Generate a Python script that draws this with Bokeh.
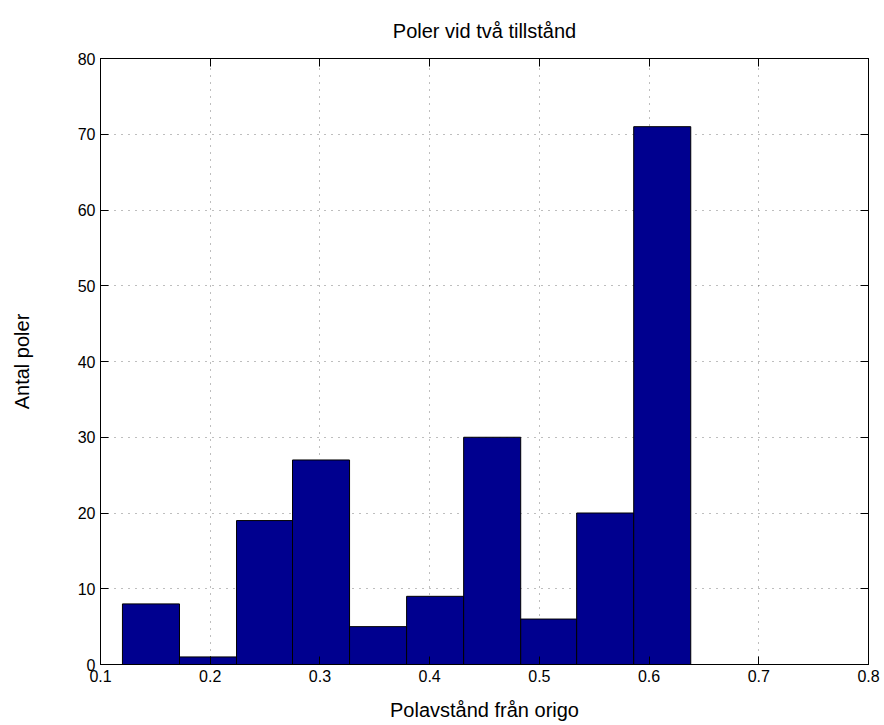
from bokeh.plotting import figure
from bokeh.models import Range1d, LinearAxis, FixedTicker, CustomJSTickFormatter, ColumnDataSource
from bokeh.embed import file_html
from bokeh.resources import INLINE

# Data
bin_edges = [0.120, 0.172, 0.224, 0.275, 0.327, 0.379, 0.431, 0.483, 0.534, 0.586, 0.638]
counts = [8, 1, 19, 27, 5, 9, 30, 6, 20, 71]
x_ticks = [0.1, 0.2, 0.3, 0.4, 0.5, 0.6, 0.7, 0.8]
y_ticks = [0, 10, 20, 30, 40, 50, 60, 70, 80]
title_text = "Poler vid två tillstånd"
x_label = "Polavstånd från origo"
y_label = "Antal poler"

FONT = "Liberation Sans"

src = ColumnDataSource(dict(left=bin_edges[:-1], right=bin_edges[1:], top=counts,
                            bottom=[0] * len(counts)))

p = figure(width=884, height=725, output_backend="svg", toolbar_location=None,
           x_range=Range1d(0.1, 0.8), y_range=Range1d(0, 80),
           min_border_left=100, min_border_right=16, min_border_top=58, min_border_bottom=61,
           background_fill_color="white", border_fill_color="white")

p.title.text = title_text
p.title.align = "center"
p.title.text_font = FONT
p.title.text_font_size = "20px"
p.title.text_font_style = "normal"
p.title.text_color = "black"
p.title.standoff = 33

p.outline_line_color = "black"
p.outline_line_width = 1
p.outline_line_alpha = 1

p.quad(left="left", right="right", top="top", bottom="bottom", source=src,
       fill_color="#00008F", line_color="black", line_width=1)

for ax, lab in ((p.xaxis[0], x_label), (p.yaxis[0], y_label)):
    ax.axis_label = lab
    ax.axis_label_text_font = FONT
    ax.axis_label_text_font_size = "20px"
    ax.axis_label_text_font_style = "normal"
    ax.axis_label_text_color = "black"
    ax.major_label_text_font = FONT
    ax.major_label_text_font_size = "16px"
    ax.major_label_text_color = "black"
    ax.major_tick_in = 8
    ax.major_tick_out = 0
    ax.minor_tick_in = 0
    ax.minor_tick_out = 0
    ax.axis_line_color = "black"
    ax.major_tick_line_color = "black"

p.xaxis[0].ticker = FixedTicker(ticks=x_ticks)
p.yaxis[0].ticker = FixedTicker(ticks=y_ticks)
p.xaxis[0].major_label_standoff = 5
p.xaxis[0].axis_label_standoff = 14
p.yaxis[0].major_label_standoff = 5
p.yaxis[0].axis_label_standoff = 42

empty = CustomJSTickFormatter(code="return ''")
top_ax = LinearAxis(ticker=FixedTicker(ticks=x_ticks), formatter=empty,
                    major_tick_in=8, major_tick_out=0, minor_tick_in=0, minor_tick_out=0,
                    major_label_standoff=0, major_label_text_font_size="1px",
                    axis_line_color="black", major_tick_line_color="black")
right_ax = LinearAxis(ticker=FixedTicker(ticks=y_ticks), formatter=empty,
                      major_tick_in=8, major_tick_out=0, minor_tick_in=0, minor_tick_out=0,
                      major_label_standoff=0, major_label_text_font_size="1px",
                      axis_line_color="black", major_tick_line_color="black")
p.add_layout(top_ax, "above")
p.add_layout(right_ax, "right")

for g in (p.xgrid[0], p.ygrid[0]):
    g.grid_line_color = "#444444"
    g.grid_line_dash = "1 6"
    g.grid_line_width = 1
    g.grid_line_alpha = 0.7
p.xgrid[0].ticker = FixedTicker(ticks=x_ticks)
p.ygrid[0].ticker = FixedTicker(ticks=y_ticks)

open("out.html", "w").write(file_html(p, INLINE))
